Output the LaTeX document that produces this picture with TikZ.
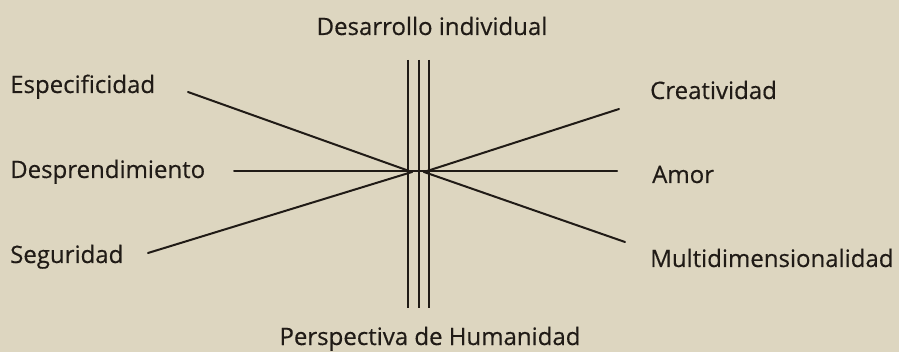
\documentclass[tikz,border=0pt]{standalone}
\usepackage{fontspec}
\setmainfont[Ligatures={NoCommon},FakeBold=0.4]{Open Sans}
\definecolor{paper}{RGB}{221,214,192}
\definecolor{ink}{RGB}{32,27,22}
\begin{document}
\begin{tikzpicture}[x=1pt,y=-1pt,
  lbl/.style={inner sep=0pt,anchor=base west,text=ink,font=\fontsize{24}{27}\selectfont},
  ttl/.style={inner sep=0pt,anchor=base,text=ink,font=\fontsize{24}{27}\selectfont},
  ray/.style={draw=ink,line width=2pt,line cap=round},
  bar/.style={draw=ink,line width=2.4pt}]
\fill[paper] (0,0) rectangle (899,352);
\useasboundingbox (0,0) rectangle (899,352);
% labels
\node[ttl] (top) at (432,35) {Desarrollo individual};
\node[ttl] (bot) at (430,345) {Perspectiva de Humanidad};
\node[lbl] (esp) at (10,93) {Especificidad};
\node[lbl] (des) at (10,178) {Desprendimiento};
\node[lbl] (seg) at (10,263) {Seguridad};
\node[lbl] (cre) at (650,99) {Creatividad};
\node[lbl] (amo) at (652,183) {Amor};
\node[lbl] (mul) at (650,267) {Multidimensionalidad};
% axis bars
\coordinate (v1t) at (408,60); \coordinate (v1b) at (408,308);
\coordinate (v2t) at (419,60); \coordinate (v2b) at (419,308);
\coordinate (v3t) at (429,60); \coordinate (v3b) at (429,308);
\draw[bar] (v1t) -- (v1b);
\draw[bar] (v2t) -- (v2b);
\draw[bar] (v3t) -- (v3b);
% ray ends
\coordinate (cl) at (412,172);
\coordinate (cr) at (424,172);
\coordinate (eE) at (188,92);
\coordinate (eS) at (148,253);
\coordinate (eD) at (234,171);
\coordinate (eA) at (617,171);
\coordinate (eC) at (619,109);
\coordinate (eM) at (625,242);
\draw[ray] (eE) -- (cl);
\draw[ray] (eS) -- (cl);
\draw[ray] (eD) -- (eA);
\draw[ray] (eC) -- (cr);
\draw[ray] (eM) -- (cr);
\end{tikzpicture}
\end{document}
